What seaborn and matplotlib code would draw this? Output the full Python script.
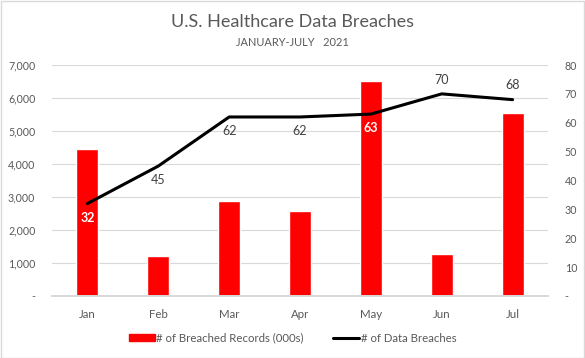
import numpy as np
import pandas as pd
import matplotlib.pyplot as plt
import seaborn as sns
from matplotlib.patches import Patch
from matplotlib.lines import Line2D
from matplotlib.ticker import FuncFormatter

months = ['Jan', 'Feb', 'Mar', 'Apr', 'May', 'Jun', 'Jul']
records = [4450, 1210, 2880, 2580, 6520, 1270, 5550]
breaches = [32, 45, 62, 62, 63, 70, 68]

df = pd.DataFrame({'month': months, 'records': records, 'breaches': breaches})

sns.set_theme(style="white")
plt.rcParams['font.family'] = ['Lato', 'DejaVu Sans']

grey = '#595959'
fig = plt.figure(figsize=(5.85, 3.58), dpi=100)
ax = fig.add_axes([52 / 585, 1 - 296 / 358, 496 / 585, 231 / 358])

sns.barplot(data=df, x='month', y='records', color='#ff0000', width=0.31,
            saturation=1, ax=ax, zorder=2)
ax.set_ylim(0, 7000)
ax.set_yticks(np.arange(0, 7001, 1000))
ax.yaxis.set_major_formatter(FuncFormatter(lambda v, p: '-' if v == 0 else f'{int(v):,}'))
ax.grid(axis='y', color='#d9d9d9', linewidth=0.8, zorder=0)
ax.set_axisbelow(True)
ax.set_xlabel('')
ax.set_ylabel('')

ax2 = ax.twinx()
sns.lineplot(data=df, x='month', y='breaches', color='black', linewidth=2.2, ax=ax2, zorder=3)
ax2.set_ylim(0, 80)
ax2.set_yticks(np.arange(0, 81, 10))
ax2.yaxis.set_major_formatter(FuncFormatter(lambda v, p: '-' if v == 0 else f'{int(v)}'))
ax2.set_ylabel('')
ax2.grid(False)

for a in (ax, ax2):
    for s in ('top', 'left', 'right'):
        a.spines[s].set_visible(False)
    a.spines['bottom'].set_color('#d9d9d9')
    a.tick_params(axis='both', length=0, colors=grey, labelsize=7.7)
ax.tick_params(axis='x', labelsize=8.3, pad=9)
ax.tick_params(axis='y', pad=12)
ax2.tick_params(axis='y', pad=12)
ax.set_xlim(-0.5, len(months) - 0.5)

# data labels
below = {0: True, 1: True, 2: True, 3: True, 4: True, 5: False, 6: False}
inside = {0, 4}
for i, v in enumerate(breaches):
    if below[i]:
        off, va = -6, 'top'
    else:
        off, va = 6, 'bottom'
    if i in inside:
        ax2.annotate(str(v), (i, v), xytext=(0, off), textcoords='offset points',
                     ha='center', va=va, color='white', fontsize=9, fontweight='bold')
    else:
        ax2.annotate(str(v), (i, v), xytext=(0, off), textcoords='offset points',
                     ha='center', va=va, color='#404040', fontsize=9)

fig.text(0.5, 1 - 22 / 358, 'U.S. Healthcare Data Breaches', ha='center', va='center',
         fontsize=13, color=grey)
fig.text(0.5, 1 - 43 / 358, 'JANUARY-JULY   2021', ha='center', va='center',
         fontsize=7.9, color=grey)

handles = [Patch(color='#ff0000'), Line2D([0], [0], color='black', linewidth=2.2)]
fig.legend(handles, ['# of Breached Records (000s)', '# of Data Breaches'],
           loc='center', bbox_to_anchor=(0.5, 1 - 338 / 358), ncol=2, frameon=False,
           fontsize=8.2, labelcolor=grey, handlelength=2.3, handleheight=0.6,
           handletextpad=0.1, columnspacing=2.6)

fig.patches.append(plt.Rectangle((0.001, 0.001), 0.997, 0.997, transform=fig.transFigure,
                                 fill=False, edgecolor='#d9d9d9', linewidth=1))
fig.savefig('out.png', dpi=100)
